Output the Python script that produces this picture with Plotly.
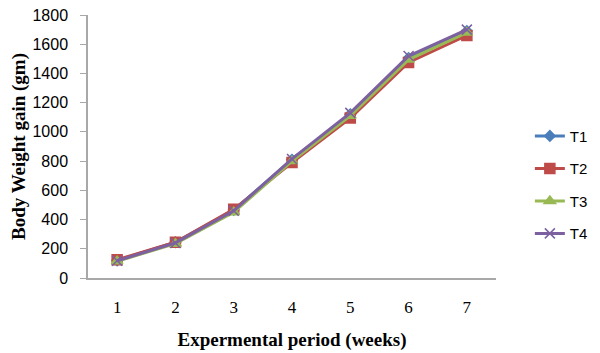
import plotly.graph_objects as go

weeks = ["1", "2", "3", "4", "5", "6", "7"]
t1 = [120, 245, 465, 810, 1120, 1505, 1690]
t2 = [125, 245, 470, 790, 1095, 1475, 1660]
t3 = [115, 235, 450, 800, 1110, 1495, 1680]
t4 = [118, 240, 460, 815, 1130, 1520, 1700]
series = [("T1", t1, "#4a7ebb", "diamond", 8),
          ("T2", t2, "#be4b48", "square", 10),
          ("T3", t3, "#98b954", "triangle-up", 10),
          ("T4", t4, "#7d60a0", "x-thin-open", 10)]

fig = go.Figure()
for name, vals, col, sym, sz in series:
    fig.add_trace(go.Scatter(
        x=weeks, y=vals, name=name, mode="lines+markers",
        line=dict(color=col, width=3),
        marker=dict(symbol=sym, size=sz, color=col, line=dict(color=col, width=1.5)),
        legendgroup=name))

# page body adds an 8px margin, so the figure is sized 592x345
fig.update_layout(
    width=592, height=345,
    margin=dict(l=80, r=92, t=7, b=75),
    paper_bgcolor="white", plot_bgcolor="white",
    showlegend=True,
    legend=dict(x=1.083, y=0.355, xanchor="left", yanchor="middle",
                font=dict(family="Liberation Sans, Arial", size=15, color="black"),
                tracegroupgap=10, traceorder="grouped", itemwidth=30),
    xaxis=dict(type="category", range=[-0.5, 6.5], showline=True, linecolor="#a8a8a8",
               linewidth=1.5, ticks="", automargin=False,
               showgrid=False, zeroline=False, ticklabelstandoff=13,
               tickfont=dict(family="Liberation Serif, Times New Roman", size=17, color="black"),
               title=dict(text="<b>Expermental period (weeks)</b>", standoff=17,
                          font=dict(family="Liberation Serif, Times New Roman", size=19, color="black"))),
    yaxis=dict(range=[0, 1800], dtick=200, showline=True, linecolor="#a8a8a8", linewidth=1.5,
               ticks="outside", ticklen=6, tickcolor="#a8a8a8", showgrid=False, zeroline=False,
               automargin=False, ticklabelstandoff=9, ticklabeloverflow="allow",
               tickfont=dict(family="Liberation Sans, Arial", size=16, color="black"),
               title=dict(text="<b>Body Weight gain (gm)</b>", standoff=13,
                          font=dict(family="Liberation Serif, Times New Roman", size=19, color="black"))),
)

fig.write_html("out.html")
